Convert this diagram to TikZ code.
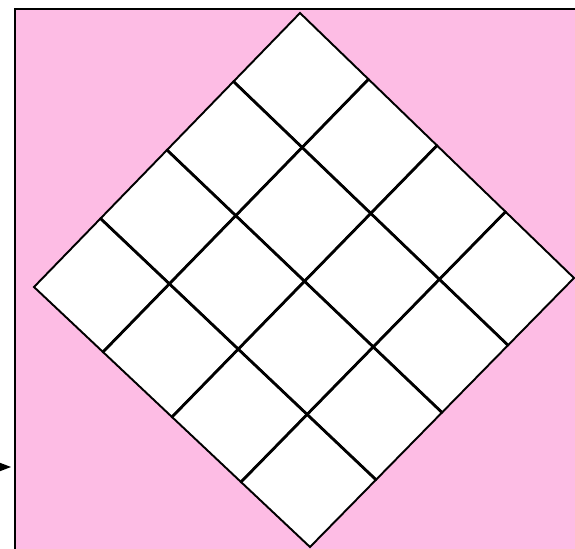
\documentclass[tikz,border=0pt]{standalone}
\usepackage{tikz}
\usetikzlibrary{arrows.meta,calc}
\usepackage{xcolor}
\definecolor{pinkbg}{HTML}{FDBCE4}

\tikzset{
  frame/.style={fill=pinkbg, draw=black, line width=1.7pt},
  cell/.style={fill=white, draw=black, line width=1.1pt, line join=miter},
  seam/.style={draw=black, line width=1.6pt},
}

\begin{document}
\begin{tikzpicture}[x=0.02cm, y=-0.02cm]
      \useasboundingbox (0,0) rectangle (575,548);

      % Background
      \filldraw[frame] (15,9) rectangle (620,600);

      % Pointer on the left
      \coordinate (arrowtail) at (-30,467);
      \coordinate (arrowtip) at (11,467);
      \draw[-{Stealth[length=10.5pt,width=8pt]}, line width=1pt] (arrowtail) -- (arrowtip);

      % Diamond corners
      \coordinate (T) at (300,13);
      \coordinate (R) at (574,278);
      \coordinate (B) at (310,547);
      \coordinate (L) at (34,287);

      % Grid points
      \foreach \i in {0,...,4} {
        \coordinate (top\i) at ($(T)!\i/4!(R)$);
        \coordinate (bot\i) at ($(L)!\i/4!(B)$);
      }
      \foreach \i in {0,...,4} {
        \foreach \j in {0,...,4} {
          \coordinate (p\i\j) at ($(top\i)!\j/4!(bot\i)$);
        }
      }

      % Cells
      \foreach \i in {0,...,3} {
        \foreach \j in {0,...,3} {
          \pgfmathtruncatemacro\ii{\i+1}
          \pgfmathtruncatemacro\jj{\j+1}
          \filldraw[cell] (p\i\j) -- (p\ii\j) -- (p\ii\jj) -- (p\i\jj) -- cycle;
        }
      }

      % Inner seams (two edges meet here)
      \foreach \k in {1,2,3} {
        \draw[seam] (p\k0) -- (p\k4);
        \draw[seam] (p0\k) -- (p4\k);
      }
    \end{tikzpicture}
\end{document}
